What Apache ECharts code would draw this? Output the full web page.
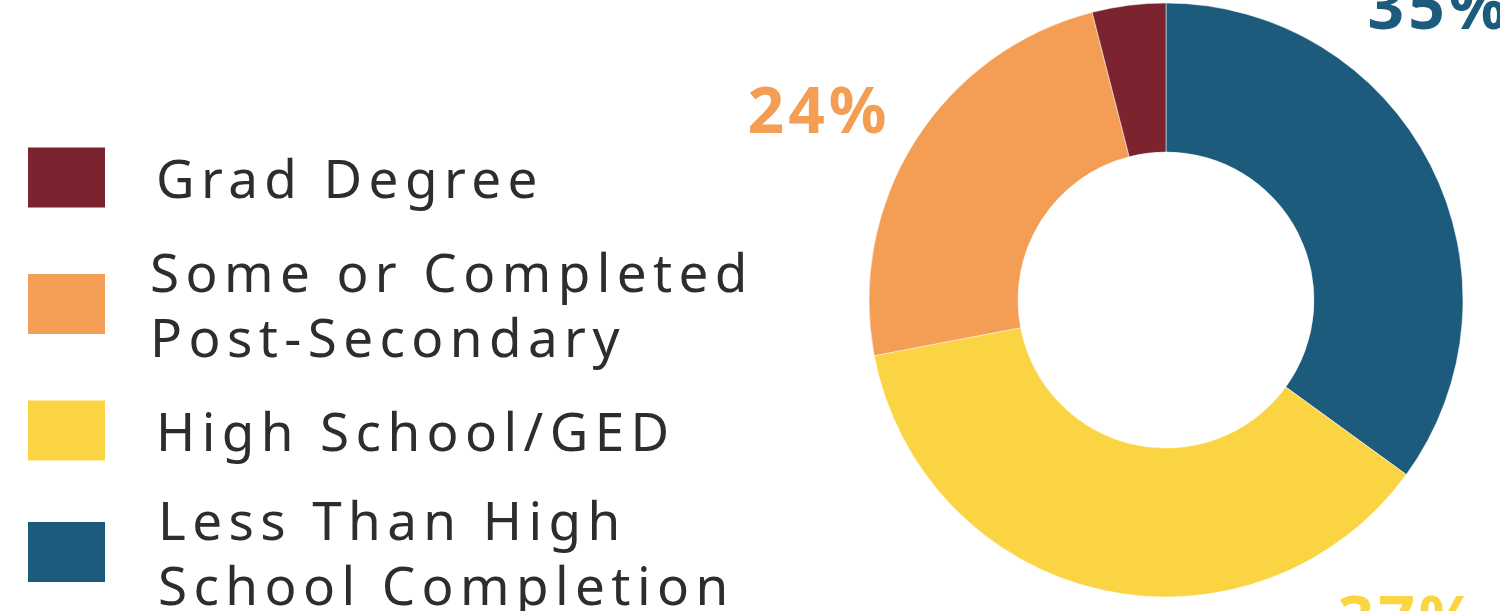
<!DOCTYPE html>
<html>
<head>
<meta charset="utf-8">
<script src="https://cdn.jsdelivr.net/npm/echarts@6/dist/echarts.min.js"></script>
<style>
html,body{margin:0;padding:0;background:#fff;}
#main{width:1500px;height:611px;}
#main text{letter-spacing:6.4px;}
#main text[style*="bold"]{letter-spacing:4px;}
</style>
</head>
<body>
<div id="main"></div>
<script>
// slice order: clockwise from 12 o'clock
var categories=['Less Than High\nSchool Completion','High School/GED','Some or Completed\nPost-Secondary','Grad Degree'];
var values=[35,37,24,4];
var colors=['#1c5b7b','#fbd443','#f49d55','#7b232e'];
var legendOrder=['Grad Degree','Some or Completed\nPost-Secondary','High School/GED','Less Than High\nSchool Completion'];
// where the % labels sit
var labelSpots=[[1439,4],[1409,617],[819,108],null];
// legend rows: top, text left pad, text bottom pad (nudges text up)
var legendTops=[142,234,390,479];
var legendPadLeft=[46,40,46,48];
var legendPadBottom=[6,10,16,16];

var mychart=echarts.init(document.getElementById('main'),null,{renderer:'svg'});

var pieData=[];
for(var i=0;i<categories.length;i++){
	var item={name:categories[i],value:values[i],itemStyle:{color:colors[i]}};
	if(!labelSpots[i]){
		item.label={show:false};
	}
	pieData.push(item);
}

var legends=[];
for(var j=0;j<legendOrder.length;j++){
	legends.push({
		orient:'vertical',
		left:28,
		top:legendTops[j],
		padding:0,
		icon:'rect',
		itemWidth:77,
		itemHeight:60,
		selectedMode:false,
		itemStyle:{borderWidth:0},
		data:[legendOrder[j]],
		textStyle:{
			fontFamily:'Noto Sans',
			fontSize:53,
			lineHeight:65,
			color:'#2d2d2d',
			padding:[0,0,legendPadBottom[j],legendPadLeft[j]]
		}
	});
}

var option={
	animation:false,
	legend:legends,
	series:[
		{
			type:'pie',
			center:[1166,300],
			radius:[148,297],
			startAngle:90,
			clockwise:true,
			avoidLabelOverlap:false,
			itemStyle:{borderColor:'#fff',borderWidth:0.5},
			label:{
				show:true,
				formatter:'{c}%',
				fontFamily:'Noto Sans',
				fontWeight:'bold',
				fontSize:64,
				color:'inherit'
			},
			labelLine:{show:false},
			labelLayout:function(params){
				var p=labelSpots[params.dataIndex];
				if(!p){
					return {};
				}
				return {x:p[0],y:p[1],align:'center',verticalAlign:'middle',hideOverlap:false};
			},
			emphasis:{disabled:true},
			data:pieData
		}
	]
};
mychart.setOption(option);
</script>
</body>
</html>
